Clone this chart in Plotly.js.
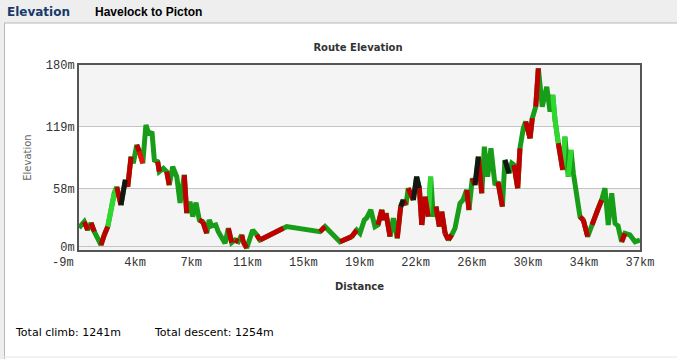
<!DOCTYPE html>
<html>
<head>
<meta charset="utf-8">
<script src="https://cdn.plot.ly/plotly-3.0.1.min.js"></script>
<style>
html,body{margin:0;padding:0;background:#fff;}
#chart{width:677px;height:359px;}
</style>
</head>
<body>
<div id="chart"></div>
<script>
// ---- data ----
const distanceKm = [0.00,0.35,0.58,0.80,1.02,1.46,1.68,1.91,2.35,2.51,2.79,3.08,3.24,3.46,3.61,3.84,4.01,4.24,4.45,4.67,4.85,5.01,5.23,5.34,5.61,5.83,6.00,6.23,6.50,6.72,7.00,7.16,7.38,7.56,7.78,8.00,8.24,8.49,8.66,8.82,9.09,9.26,9.71,9.93,10.15,10.37,10.59,10.82,10.92,11.15,11.55,11.82,12.03,13.58,13.81,16.02,16.36,17.35,18.13,18.46,18.68,18.97,19.13,19.40,19.68,19.88,20.13,20.28,20.41,20.68,20.90,21.16,21.39,21.56,21.74,21.89,22.23,22.45,22.63,22.79,23.01,23.23,23.38,23.56,23.74,23.96,24.12,24.34,24.56,24.78,25.00,25.33,25.53,25.78,25.93,26.15,26.33,26.55,26.78,26.95,27.17,27.39,27.66,27.86,28.15,28.32,28.59,28.77,28.92,29.17,29.32,29.54,29.70,29.99,30.14,30.37,30.54,30.80,31.10,31.32,31.50,31.65,31.87,32.16,32.31,32.53,32.71,32.87,33.31,33.53,33.82,34.11,34.53,34.75,34.97,35.19,35.42,35.64,35.84,36.08,36.30,36.63,36.97,37.30];
const elevationM = [19,25.0,16.8,23.7,15.1,2.0,11.9,20.1,53.4,59.3,41.5,66.3,59.6,89.3,82.8,100.9,94.3,82.8,120.7,110.8,114.0,86.0,84.4,74.5,77.8,74.5,61.3,79.4,69.5,43.5,71.2,33.6,44.8,30.0,43.8,26.7,24.7,13.5,26.7,20.8,21.8,15.1,3.7,18.5,4.3,6.9,5.2,11.9,5.2,-1.0,16.8,11.9,6.9,18.5,20.1,15.1,20.1,5.2,10.2,16.8,13.5,26.7,28.7,36.6,20.1,21.8,36.6,26.7,33.3,10.2,28.4,8.6,39.9,46.5,41.5,58.1,46.5,69.5,58.1,21.8,49.7,30.0,69.5,30.0,39.9,20.1,34.9,13.5,6.9,11.9,18.5,43.2,46.5,56.4,36.6,67.9,61.3,89.3,53.1,99.2,69.5,97.6,61.3,64.3,39.9,86.0,72.9,82.8,81.1,58.1,97.6,117.4,123.9,107.5,127.3,138.8,176.7,138.8,158.5,133.8,150.3,125.6,102.6,76.2,109.1,69.5,95.9,72.9,30.0,26.7,10.2,21.8,38.3,46.5,58.1,21.8,53.1,23.4,20.8,5.2,13.5,11.9,5.2,6.9];
// colour class of the segment that ends at each point: g green, G light green, r red, R bright red, k black
const segmentClass = ['g','g','r','g','r','g','r','r','G','G','r','k','r','r','g','g','r','R','g','g','g','g','g','r','g','g','r','g','g','g','g','r','g','g','g','g','r','r','g','g','g','g','g','g','r','g','r','g','r','r','g','g','r','r','g','g','r','g','r','r','g','g','g','g','g','g','r','r','g','r','g','g','r','k','r','g','r','k','k','r','r','r','G','g','g','r','g','r','r','r','g','g','g','g','r','g','r','k','r','g','g','g','g','g','r','g','k','g','g','r','r','g','g','r','r','g','r','g','g','g','g','G','G','r','G','g','G','g','g','r','r','g','r','r','g','g','g','g','g','g','r','g','g','g'];
const xTickKm = [3.73,7.46,11.19,14.92,18.65,22.38,26.11,29.84,33.57,37.30];
const xTickLabels = ['4km','7km','11km','15km','19km','22km','26km','30km','34km','37km'];
const yTickVals = [0,58,119,180];
const yTickLabels = ['0m','58m','119m','180m'];
const yBottomLabel = '-9m';
const totalClimb = 1241, totalDescent = 1254;

// ---- styles ----
const classColor = {g:'#179d17', G:'#2fd82f', r:'#c00000', R:'#ee1010', k:'#151515'};
const W = 677, H = 359, ML = 79, MR = 37, MT = 65, MB = 109;
const PW = W - ML - MR, PH = H - MT - MB;
const px = v => (v - ML) / PW;
const py = v => (H - MB - v) / PH;
const tickFont = {family: 'Liberation Mono', size: 12, color: '#333333'};

const traces = [{
  x: distanceKm, y: elevationM, mode: 'lines', type: 'scatter',
  line: {color: classColor.g, width: 5, simplify: false},
  hoverinfo: 'skip', showlegend: false
}];
['G','r','R','k'].forEach(c => {
  const xs = [], ys = [];
  for (let i = 1; i < distanceKm.length; i++) {
    if (segmentClass[i] === c) {
      xs.push(distanceKm[i-1], distanceKm[i], null);
      ys.push(elevationM[i-1], elevationM[i], null);
    }
  }
  traces.push({x: xs, y: ys, mode: 'lines', type: 'scatter',
    line: {color: classColor[c], width: 5, simplify: false},
    hoverinfo: 'skip', showlegend: false, connectgaps: false});
});

const layout = {
  width: W, height: H,
  margin: {l: ML, r: MR, t: MT, b: MB, pad: 0},
  paper_bgcolor: '#ffffff', plot_bgcolor: '#f4f4f4',
  title: {text: '<b>Route Elevation</b>', x: px(358), xanchor: 'center', xref: 'paper',
          y: 1 - 47/H, yanchor: 'middle', font: {family: 'DejaVu Sans', size: 10, color: '#333333'}},
  xaxis: {range: [0, 37.3], tickvals: xTickKm, ticktext: xTickLabels, showgrid: false, zeroline: false,
          showline: true, mirror: true, linecolor: '#555555', linewidth: 2, ticks: '',
          tickfont: tickFont,
          title: {text: '<b>Distance</b>', standoff: 14, font: {family: 'DejaVu Sans', size: 10, color: '#333333'}}},
  yaxis: {range: [-3, 180], tickvals: yTickVals, ticktext: yTickLabels, showgrid: true, gridcolor: '#c4c4c4', gridwidth: 1,
          zeroline: false, showline: true, mirror: true, linecolor: '#555555', linewidth: 2, ticks: '',
          tickfont: tickFont,
          title: {text: 'Elevation', standoff: 12, font: {family: 'DejaVu Sans', size: 10, color: '#666666'}}},
  shapes: [
    {type: 'rect', xref: 'paper', yref: 'y', x0: 0, x1: 1, y0: 58, y1: 119, fillcolor: '#ffffff', line: {width: 0}, layer: 'below'},
    {type: 'rect', xref: 'paper', yref: 'paper', x0: px(0), x1: px(W), y0: py(0), y1: py(23), fillcolor: '#eeeeee', line: {width: 0}, layer: 'below'},
    {type: 'rect', xref: 'paper', yref: 'paper', x0: px(0), x1: px(4), y0: py(23), y1: py(H), fillcolor: '#eeeeee', line: {width: 0}, layer: 'below'},
    {type: 'line', xref: 'paper', yref: 'paper', x0: px(4), x1: px(W), y0: py(23), y1: py(23), line: {color: '#b8b8b8', width: 1}},
    {type: 'line', xref: 'paper', yref: 'paper', x0: px(4.5), x1: px(4.5), y0: py(23), y1: py(H), line: {color: '#b8b8b8', width: 1}},
    {type: 'line', xref: 'paper', yref: 'paper', x0: px(4), x1: px(W), y0: py(357), y1: py(357), line: {color: '#e6e6e6', width: 1}}
  ],
  annotations: [
    {text: yBottomLabel, xref: 'paper', yref: 'paper', x: px(76), y: py(254), xanchor: 'right', yanchor: 'top', showarrow: false,
     font: tickFont},
    {text: '<b>Elevation</b>', xref: 'paper', yref: 'paper', x: px(5), y: py(12), xanchor: 'left', yanchor: 'middle', showarrow: false,
     font: {family: 'DejaVu Sans', size: 12, color: '#173a6b'}},
    {text: '<b>Havelock to Picton</b>', xref: 'paper', yref: 'paper', x: px(93), y: py(12), xanchor: 'left', yanchor: 'middle', showarrow: false,
     font: {family: 'Liberation Sans', size: 12, color: '#000000'}},
    {text: 'Total climb: ' + totalClimb + 'm', xref: 'paper', yref: 'paper', x: px(13), y: py(332), xanchor: 'left', yanchor: 'middle', showarrow: false,
     font: {family: 'DejaVu Sans', size: 11, color: '#000000'}},
    {text: 'Total descent: ' + totalDescent + 'm', xref: 'paper', yref: 'paper', x: px(152), y: py(332), xanchor: 'left', yanchor: 'middle', showarrow: false,
     font: {family: 'DejaVu Sans', size: 11, color: '#000000'}}
  ]
};

Plotly.newPlot('chart', traces, layout, {displayModeBar: false, staticPlot: true});
</script>
</body>
</html>
